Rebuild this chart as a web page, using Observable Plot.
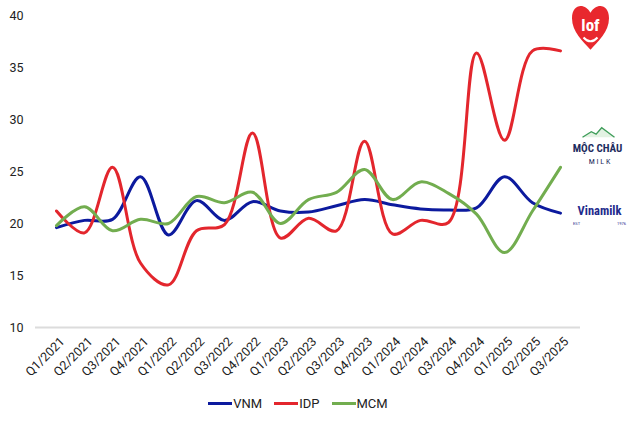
<!DOCTYPE html>
<html>
<head>
<meta charset="utf-8">
<script src="https://cdn.jsdelivr.net/npm/d3@7"></script>
<script src="https://cdn.jsdelivr.net/npm/@observablehq/plot@0.6"></script>
<style>
  body { margin: 0; background: #fff; font-family: Roboto, "Noto Sans", sans-serif; }
  #chart { width: 640px; }
  .legend { display: flex; justify-content: center; align-items: center; gap: 12px; width: 640px; padding-right: 44px; box-sizing: border-box; font-size: 13px; color: #222; margin-top: 6px; }
  .legend span.item { display: flex; align-items: center; }
  .legend span.sw { display: inline-block; width: 24px; height: 3px; margin-right: 1px; }
</style>
</head>
<body>
<div id="chart"></div>
<script>
const quarters = ["Q1/2021","Q2/2021","Q3/2021","Q4/2021","Q1/2022","Q2/2022","Q3/2022","Q4/2022","Q1/2023","Q2/2023","Q3/2023","Q4/2023","Q1/2024","Q2/2024","Q3/2024","Q4/2024","Q1/2025","Q2/2025","Q3/2025"];
const vnm = [19.6, 20.3, 20.4, 24.5, 18.9, 22.2, 20.3, 22.1, 21.2, 21.1, 21.7, 22.3, 21.8, 21.4, 21.3, 21.5, 24.5, 22.0, 21.0];
const idp = [21.2, 19.1, 25.4, 16.2, 14.1, 19.3, 19.9, 28.7, 18.6, 20.5, 19.3, 27.9, 19.0, 20.3, 20.1, 36.4, 28.0, 36.6, 36.6];
const mcm = [19.8, 21.6, 19.3, 20.4, 20.0, 22.6, 22.0, 23.0, 20.0, 22.3, 23.0, 25.2, 22.3, 24.0, 22.9, 20.9, 17.2, 21.2, 25.4];
const seriesNames = ["VNM", "IDP", "MCM"];
const seriesColors = ["#0c1a9e", "#e3262d", "#72ad4f"];
const yTicks = [10, 15, 20, 25, 30, 35, 40];

const seriesValues = [vnm, idp, mcm];
const rows = seriesNames.flatMap((s, k) => quarters.map((q, i) => ({q, v: seriesValues[k][i], s})));
const last = quarters[quarters.length - 1];
const logoFont = "'Roboto Condensed', 'DejaVu Sans Condensed', Roboto, sans-serif";

// custom logo symbols
const heart = {draw(c, size) {
  const r = Math.sqrt(size / Math.PI);
  c.moveTo(0, -0.75 * r);
  c.bezierCurveTo(-0.3 * r, -1.3 * r, -1.0 * r, -1.25 * r, -1.0 * r, -0.45 * r);
  c.bezierCurveTo(-1.0 * r, 0.3 * r, -0.4 * r, 0.8 * r, 0, 1.25 * r);
  c.bezierCurveTo(0.4 * r, 0.8 * r, 1.0 * r, 0.3 * r, 1.0 * r, -0.45 * r);
  c.bezierCurveTo(1.0 * r, -1.25 * r, 0.3 * r, -1.3 * r, 0, -0.75 * r);
  c.closePath();
}};
const smile = {draw(c, size) {
  const r = Math.sqrt(size / Math.PI);
  c.moveTo(-r, -0.2 * r);
  c.quadraticCurveTo(0, 0.9 * r, r, -0.2 * r);
}};
const mountain = {draw(c, size) {
  const r = Math.sqrt(size / Math.PI);
  c.moveTo(-r, 0.3 * r);
  c.lineTo(-0.45 * r, -0.05 * r);
  c.lineTo(-0.15 * r, 0.1 * r);
  c.lineTo(0.2 * r, -0.3 * r);
  c.lineTo(r, 0.3 * r);
}};

const plot = Plot.plot({
  width: 640,
  height: 390,
  marginLeft: 35,
  marginRight: 60,
  marginTop: 15,
  marginBottom: 63,
  style: {fontFamily: "Roboto, sans-serif", fontSize: "13px", color: "#222", background: "#fff"},
  x: {type: "point", domain: quarters, padding: 0.5, label: null},
  y: {domain: [10, 40], label: null},
  color: {domain: seriesNames, range: seriesColors},
  marks: [
    Plot.ruleY([10], {stroke: "#dcdcdc", strokeWidth: 2}),
    Plot.axisY({ticks: yTicks, tickSize: 0, tickPadding: 12, fontSize: 12.5, label: null}),
    Plot.axisX({tickSize: 0, tickRotate: -45, tickPadding: 10, dx: 6, dy: 2, fontSize: 12.5, label: null}),
    Plot.line(rows, {x: "q", y: "v", z: "s", stroke: "s", curve: "catmull-rom", strokeWidth: 3}),
    // logos
    Plot.dot([38.94], {x: () => last, y: d => d, dx: 30, symbol: heart, r: 18.5, fill: "#e8282e", stroke: "none"}),
    Plot.text([39.0], {x: () => last, y: d => d, text: () => "lof", dx: 30, fill: "#fff", fontSize: 17, fontWeight: "bold", fontFamily: logoFont}),
    Plot.dot([37.75], {x: () => last, y: d => d, dx: 30, symbol: smile, r: 7, fill: "none", stroke: "#fff", strokeWidth: 2}),
    Plot.dot([28.75], {x: () => last, y: d => d, dx: 38, symbol: mountain, r: 16, fill: "#e3f2e3", stroke: "#3f9d5a", strokeWidth: 1.3}),
    Plot.text([27.2], {x: () => last, y: d => d, text: () => "MỘC CHÂU", dx: 37, fill: "#1d2c5e", fontSize: 11, fontWeight: "bold", fontFamily: logoFont}),
    Plot.text([26.0], {x: () => last, y: d => d, text: () => "M I L K", dx: 39, fill: "#1d2c5e", fontSize: 8, fontFamily: logoFont}),
    Plot.text([21.25], {x: () => last, y: d => d, text: () => "Vinamilk", dx: 39, fill: "#1f2a8c", fontSize: 12.5, fontWeight: "bold", fontFamily: logoFont}),
    Plot.text([20.0], {x: () => last, y: d => d, text: () => "EST", dx: 16, fill: "#1f2a8c", fontSize: 4, fontFamily: "Roboto"}),
    Plot.text([20.0], {x: () => last, y: d => d, text: () => "1976", dx: 61, fill: "#1f2a8c", fontSize: 4, fontFamily: "Roboto"})
  ]
});
document.getElementById("chart").appendChild(plot);

const legend = document.createElement("div");
legend.className = "legend";
seriesNames.forEach((s, k) => {
  const item = document.createElement("span");
  item.className = "item";
  item.innerHTML = `<span class="sw" style="background:${seriesColors[k]}"></span>${s}`;
  legend.appendChild(item);
});
document.body.appendChild(legend);
</script>
</body>
</html>
